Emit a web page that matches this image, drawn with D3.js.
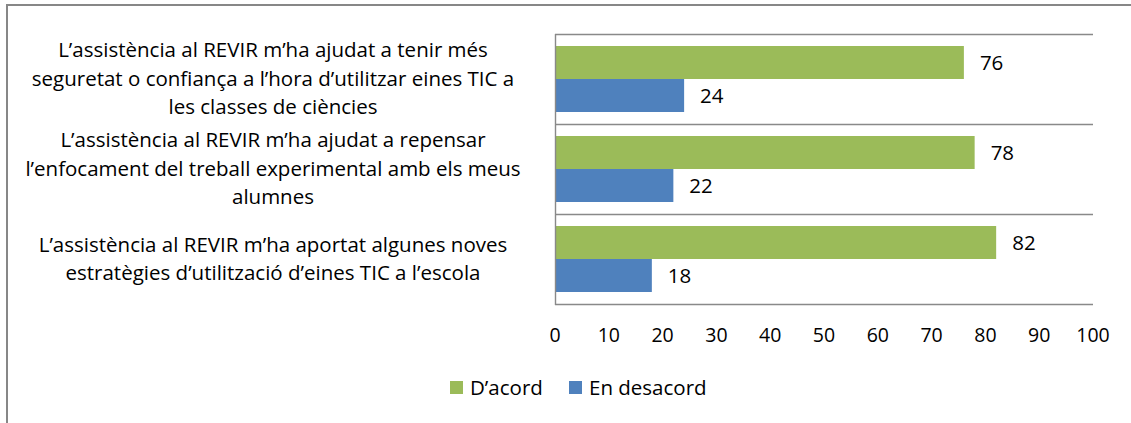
<!DOCTYPE html>
<html>
<head>
<meta charset="utf-8">
<script src="https://cdn.jsdelivr.net/npm/d3@7"></script>
<style>
  body { margin: 0; background: #fff; }
  svg text { font-family: "Open Sans", Lato, sans-serif; fill: #000; }
</style>
</head>
<body>
<div id="chart"></div>
<script>
// Data
const categories = ["q1", "q2", "q3"];
const categoryLines = [
    ["L\u2019assistència al REVIR m\u2019ha ajudat a tenir més",
     "seguretat o confiança a l\u2019hora d\u2019utilitzar eines TIC a",
     "les classes de ciències"],
    ["L\u2019assistència al REVIR m\u2019ha ajudat a repensar",
     "l\u2019enfocament del treball experimental amb els meus",
     "alumnes"],
    ["L\u2019assistència al REVIR m\u2019ha aportat algunes noves",
     "estratègies d\u2019utilització d\u2019eines TIC a l\u2019escola"]
];
const seriesNames = ["D\u2019acord", "En desacord"];
const acordValues = [76, 78, 82];
const desacordValues = [24, 22, 18];
const xTicks = [0, 10, 20, 30, 40, 50, 60, 70, 80, 90, 100];

const colors = d3.scaleOrdinal().domain(seriesNames).range(["#9bbb59", "#4f81bd"]);

var width = 1131, height = 423;
var fontSize = "20.5px";
var svg = d3.select("#chart").append("svg")
    .attr("width", width)
    .attr("height", height);

// outer chart frame (runs off the right and bottom edges)
svg.append("rect")
    .attr("x", 7).attr("y", 5)
    .attr("width", width + 20).attr("height", height + 20)
    .attr("fill", "none")
    .attr("stroke", "#878787")
    .attr("stroke-width", 2);

var x = d3.scaleLinear().domain([0, 100]).range([555, 1093]);
var y = d3.scaleBand().domain(categories).range([34, 304]);
var ySub = d3.scaleBand().domain(seriesNames).range([0, y.bandwidth()]).paddingOuter(0.364);

// gridlines at category boundaries
var gridYs = categories.map(function (c) { return y(c); }).concat([y.range()[1]]);
svg.append("g").selectAll("line")
    .data(gridYs)
    .enter().append("line")
    .attr("x1", x(0)).attr("x2", x(100))
    .attr("y1", function (d) { return Math.round(d) + 0.5; })
    .attr("y2", function (d) { return Math.round(d) + 0.5; })
    .attr("stroke", "#898989")
    .attr("stroke-width", 1.4);

// bars
var rows = categories.map(function (c, i) {
    return { cat: c, values: [
        { series: seriesNames[0], value: acordValues[i] },
        { series: seriesNames[1], value: desacordValues[i] }
    ] };
});

var groups = svg.append("g").selectAll("g")
    .data(rows)
    .enter().append("g")
    .attr("transform", function (d) { return "translate(0," + y(d.cat) + ")"; });

groups.selectAll("rect")
    .data(function (d) { return d.values; })
    .enter().append("rect")
    .attr("x", x(0))
    .attr("y", function (d) { return ySub(d.series); })
    .attr("width", function (d) { return x(d.value) - x(0); })
    .attr("height", ySub.bandwidth())
    .attr("fill", function (d) { return colors(d.series); });

groups.selectAll("text.val")
    .data(function (d) { return d.values; })
    .enter().append("text")
    .attr("class", "val")
    .attr("x", function (d) { return x(d.value) + 16; })
    .attr("y", function (d) { return ySub(d.series) + ySub.bandwidth() / 2; })
    .attr("dy", "0.36em")
    .style("font-size", fontSize)
    .text(function (d) { return d.value; });

// vertical axis line
svg.append("line")
    .attr("x1", x(0) + 0.5).attr("x2", x(0) + 0.5)
    .attr("y1", y.range()[0]).attr("y2", y.range()[1] + 1)
    .attr("stroke", "#898989")
    .attr("stroke-width", 1.4);

// x tick labels
svg.append("g").selectAll("text")
    .data(xTicks)
    .enter().append("text")
    .attr("x", function (d) { return x(d); })
    .attr("y", 342)
    .attr("text-anchor", "middle")
    .style("font-size", "19.5px")
    .text(function (d) { return d; });

// category labels
var labelCenterX = 273, lineStep = 28.5;
categoryLines.forEach(function (lines, i) {
    var cy = y(categories[i]) + y.bandwidth() / 2;
    svg.append("g").selectAll("text")
        .data(lines)
        .enter().append("text")
        .attr("x", labelCenterX)
        .attr("y", function (d, j) { return cy + (j - (lines.length - 1) / 2) * lineStep; })
        .attr("dy", "0.33em")
        .attr("text-anchor", "middle")
        .style("font-size", fontSize)
        .text(function (d) { return d; });
});

// legend
var legendX = [450, 569];
var legend = svg.append("g").selectAll("g")
    .data(seriesNames)
    .enter().append("g")
    .attr("transform", function (d, i) { return "translate(" + legendX[i] + ",381)"; });
legend.append("rect")
    .attr("width", 13).attr("height", 13)
    .attr("fill", function (d) { return colors(d); });
legend.append("text")
    .attr("x", 20).attr("y", 6.5)
    .attr("dy", "0.36em")
    .style("font-size", fontSize)
    .text(function (d) { return d; });
</script>
</body>
</html>
